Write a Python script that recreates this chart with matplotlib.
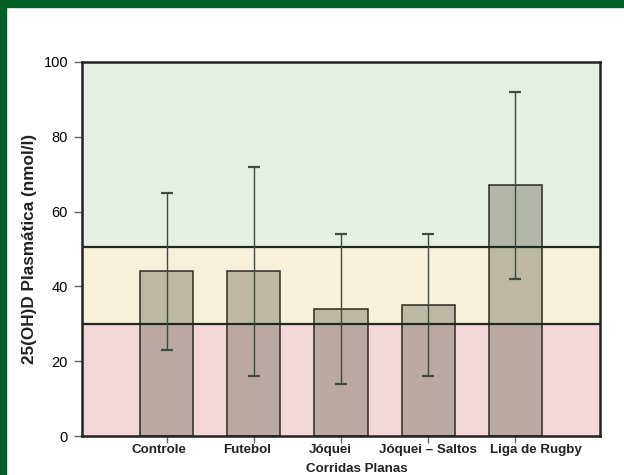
import matplotlib
matplotlib.use("Agg")
import matplotlib.pyplot as plt
from matplotlib.patches import Rectangle
from matplotlib.transforms import ScaledTranslation

# data
categories = ["Controle", "Futebol", "Jóquei\nCorridas Planas", "Jóquei – Saltos", "Liga de Rugby"]
means = [44, 44, 34, 35, 67]
err_low = [23, 16, 14, 16, 42]
err_high = [65, 72, 54, 54, 92]
band_edges = [0, 30, 50.5, 100]
band_colors = ["#f3d6d8", "#f7f1da", "#e6efe4"]
y_ticks = [0, 20, 40, 60, 80, 100]
# horizontal shifts (px) of each label line, as seen in the reference
line_shift = [[-8], [-7], [-11, 16], [0], [21]]

plt.rcParams["font.family"] = ["Liberation Sans", "DejaVu Sans"]

fig = plt.figure(figsize=(6.24, 4.75), dpi=100)
ax = fig.add_axes([0.1314, 0.0821, 0.8301, 0.7874])

# background bands
for lo, hi, c in zip(band_edges[:-1], band_edges[1:], band_colors):
    ax.axhspan(lo, hi, color=c, zorder=0, lw=0)
for y in band_edges[1:-1]:
    ax.axhline(y, color="#1e2a22", lw=1.6, zorder=3)

x = list(range(1, len(categories) + 1))
ax.bar(x, means, width=0.61, color=(0.40, 0.39, 0.33, 0.4),
       edgecolor="#2a2c20", linewidth=1.1, zorder=2)

lower = [m - lo for m, lo in zip(means, err_low)]
upper = [hi - m for m, hi in zip(means, err_high)]
ax.errorbar(x, means, yerr=[lower, upper], fmt="none", ecolor="#3b4d42",
            elinewidth=1.0, capsize=4.5, capthick=1.6, zorder=4)

ax.set_xlim(0.03, 5.97)
ax.set_ylim(0, 100)
ax.set_yticks(y_ticks)
ax.set_xticks(x)
ax.set_xticklabels([])
for xi, lab, shifts in zip(x, categories, line_shift):
    for k, (line, dx) in enumerate(zip(lab.split("\n"), shifts)):
        tr = ax.get_xaxis_transform() + ScaledTranslation(
            dx / 100, (-8 - 19 * k) / 100, fig.dpi_scale_trans)
        ax.text(xi, 0, line, transform=tr, ha="center", va="top",
                fontweight="bold", fontsize=9.6, color="#222222")
ax.tick_params(axis="y", labelsize=10.5, length=6, width=1.0, color="#666666", pad=4)
ax.tick_params(axis="x", length=5, width=1.0, color="#666666")
ax.set_ylabel("25(OH)D Plasmática (nmol/l)", fontweight="bold", fontsize=12.3,
              labelpad=5, color="#222222")

for side in ["left", "bottom", "right", "top"]:
    ax.spines[side].set_linewidth(1.8)
    ax.spines[side].set_color("#222222")

# dark green frame on the left and top edges
green = "#005f26"
fig.patches.append(Rectangle((0, 0), 6 / 624, 1, transform=fig.transFigure,
                             color=green, zorder=10))
fig.patches.append(Rectangle((0, 1 - 7 / 475), 1, 7 / 475,
                             transform=fig.transFigure, color=green, zorder=10))

fig.savefig("out.png", dpi=100)
